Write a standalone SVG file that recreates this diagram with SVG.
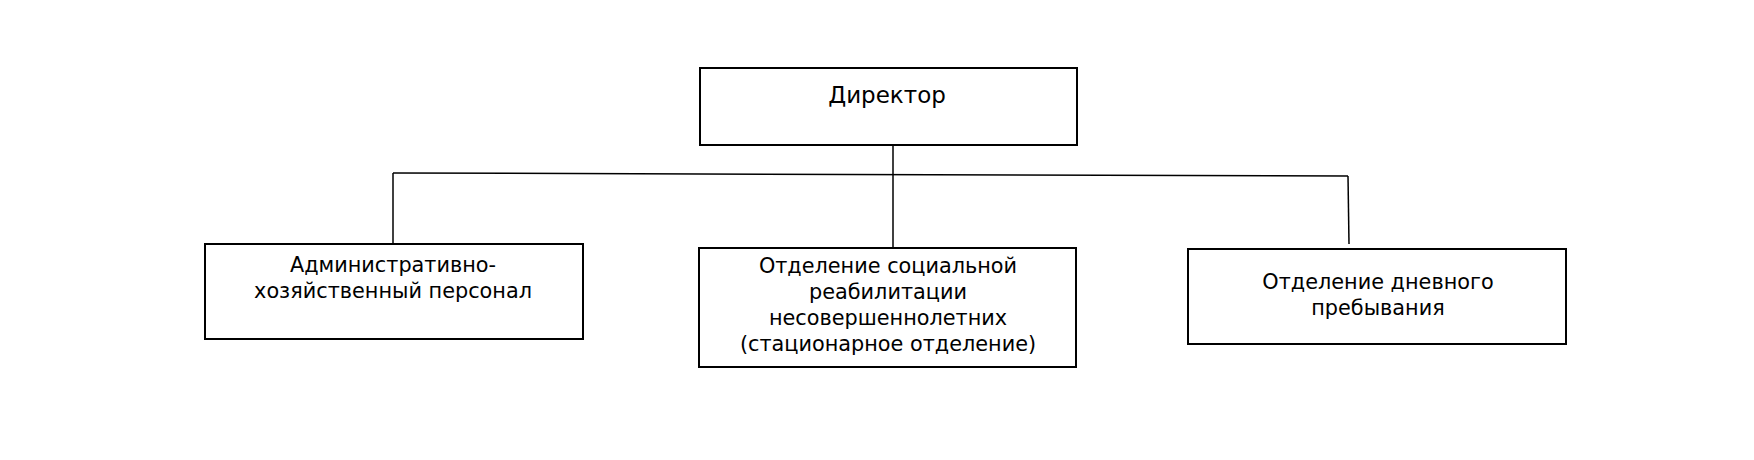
<svg xmlns="http://www.w3.org/2000/svg" width="1754" height="460" viewBox="0 0 1754 460">
<style>
rect.n{fill:#fff;stroke:#000;stroke-width:2}
text{font-family:"DejaVu Sans",sans-serif;font-size:20.8px;text-anchor:middle;fill:#000}
#connectors line{stroke:#000;stroke-width:1.5}
</style>
<rect width="1754" height="460" fill="#fff"/>
<g id="connectors">
<line x1="893" y1="145" x2="893" y2="248"/>
<line x1="393" y1="173" x2="1348" y2="176"/>
<line x1="393" y1="173" x2="393" y2="243"/>
<line x1="1348" y1="176" x2="1349" y2="244"/>
</g>
<g id="director"><rect class="n" x="700" y="68" width="377" height="77"/><text x="887" y="103" style="font-size:23px">Директор</text></g>
<g id="admin"><rect class="n" x="205" y="244" width="378" height="95"/><text x="393" y="272">Административно-</text><text x="393" y="298">хозяйственный персонал</text></g>
<g id="social"><rect class="n" x="699" y="248" width="377" height="119"/><text x="888" y="273">Отделение социальной</text><text x="888" y="299">реабилитации</text><text x="888" y="325">несовершеннолетних</text><text x="888" y="351">(стационарное отделение)</text></g>
<g id="day"><rect class="n" x="1188" y="249" width="378" height="95"/><text x="1378" y="289">Отделение дневного</text><text x="1378" y="315">пребывания</text></g>
</svg>
